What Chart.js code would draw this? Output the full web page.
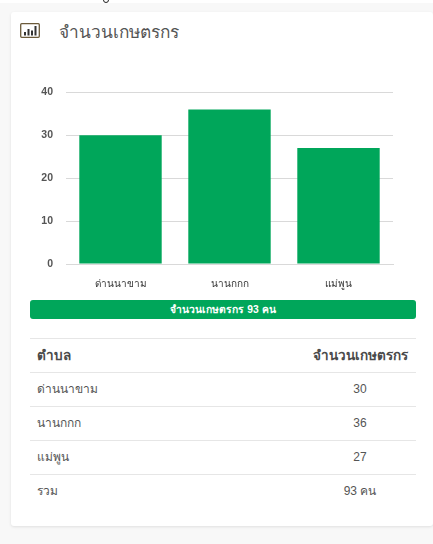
<!DOCTYPE html>
<html><head><meta charset="utf-8">
<style>
html,body{margin:0;padding:0;width:433px;height:544px;overflow:hidden;background:#f8f8f8;font-family:"Liberation Sans","Noto Sans",sans-serif;color:#555}
#top{position:absolute;left:0;top:0;width:433px;height:3px;background:#fff}
#mark{position:absolute;left:103px;top:-3px;width:6px;height:6px;box-sizing:border-box;border:1.5px solid #222;border-radius:50%}
#card{position:absolute;left:11px;top:12px;width:422px;height:514px;background:#fff;border-radius:3px;box-shadow:0 1px 3px rgba(0,0,0,.1)}
#icon{position:absolute;left:20px;top:23px;width:20px;height:15px}
#title{position:absolute;left:59px;top:20px;font-size:17.3px;line-height:24px;color:#555}
#wrap{position:absolute;left:30px;top:73px;width:386px;height:222px}
#c{display:block}
#bar{position:absolute;left:30px;top:300px;width:386px;height:19px;background:#00a65a;border-radius:3px;color:#fff;font-size:10.3px;font-weight:700;text-align:center;line-height:19px}
table{position:absolute;left:30px;top:338px;width:386px;table-layout:fixed;border-collapse:collapse;font-size:12px}
td,th{padding:0 0 2px;box-sizing:border-box;height:34px;border-top:1.5px solid #e6e6e6;text-align:left;color:#555;white-space:nowrap}
th{font-weight:700;font-size:13.5px;color:#4a4a4a}
td:first-child,th:first-child{padding-left:7px;width:274px}
td:last-child,th:last-child{text-align:center;width:112px}
</style></head><body>
<div id="top"></div>
<div id="mark"></div>
<div id="card"></div>
<svg id="icon" viewBox="0 0 20 15"><rect x=".7" y=".7" width="18.6" height="13.6" rx="1" fill="none" stroke="#6b5a3a" stroke-width="1.3"/><g fill="#333"><rect x="4" y="9" width="2" height="3.5"/><rect x="7.5" y="6" width="2" height="6.5"/><rect x="11" y="7.5" width="2" height="5"/><rect x="14.5" y="3" width="2" height="9.5"/></g></svg>
<div id="title"></div>
<div id="wrap"><canvas id="c" width="386" height="222"></canvas></div>
<div id="bar"></div>
<table id="t"></table>
<script src="https://cdn.jsdelivr.net/npm/chart.js@4"></script>
<script>
const titleText = "จำนวนเกษตรกร";
const categories = ["ด่านนาขาม", "นานกกก", "แม่พูน"];
const farmers = [30, 36, 27];
const yTicks = [0, 10, 20, 30, 40];
const headers = ["ตำบล", "จำนวนเกษตรกร"];
const totalLabel = "รวม";
const totalText = "93 คน";

document.getElementById('title').textContent = titleText;
document.getElementById('bar').textContent = titleText + " " + totalText;
let rows = `<tr><th>${headers[0]}</th><th>${headers[1]}</th></tr>`;
categories.forEach((c,i)=>{rows += `<tr><td>${c}</td><td>${farmers[i]}</td></tr>`;});
rows += `<tr><td>${totalLabel}</td><td>${totalText}</td></tr>`;
document.getElementById('t').innerHTML = rows;

const fontFamily = '"Liberation Sans","Noto Sans",sans-serif';
new Chart(document.getElementById('c'), {
  type: 'bar',
  data: { labels: categories, datasets: [{ data: farmers, backgroundColor: '#00a65a', borderWidth: 0, barPercentage: 0.9, categoryPercentage: 0.84 }] },
  options: {
    responsive: false, animation: false,
    layout: { padding: { top: 5, right: 23, bottom: 0, left: 0 } },
    plugins: { legend: { display: false }, tooltip: { enabled: false } },
    scales: {
      x: { grid: { display: false, drawTicks: false }, border: { color: '#d9d9d9' },
           ticks: { color: '#333', font: { size: 10, family: fontFamily }, padding: 14, maxRotation: 0 },
           afterFit(s){ s.height = 31; } },
      y: { min: 0, max: 40, grid: { color: '#d9d9d9', drawTicks: false }, border: { display: false },
           afterBuildTicks(s){ s.ticks = yTicks.map(v=>({value:v})); },
           ticks: { color: '#555', font: { size: 10.5, weight: 'bold', family: fontFamily }, padding: 13 },
           afterFit(s){ s.width = 36; } }
    }
  }
});
</script>
</body></html>
